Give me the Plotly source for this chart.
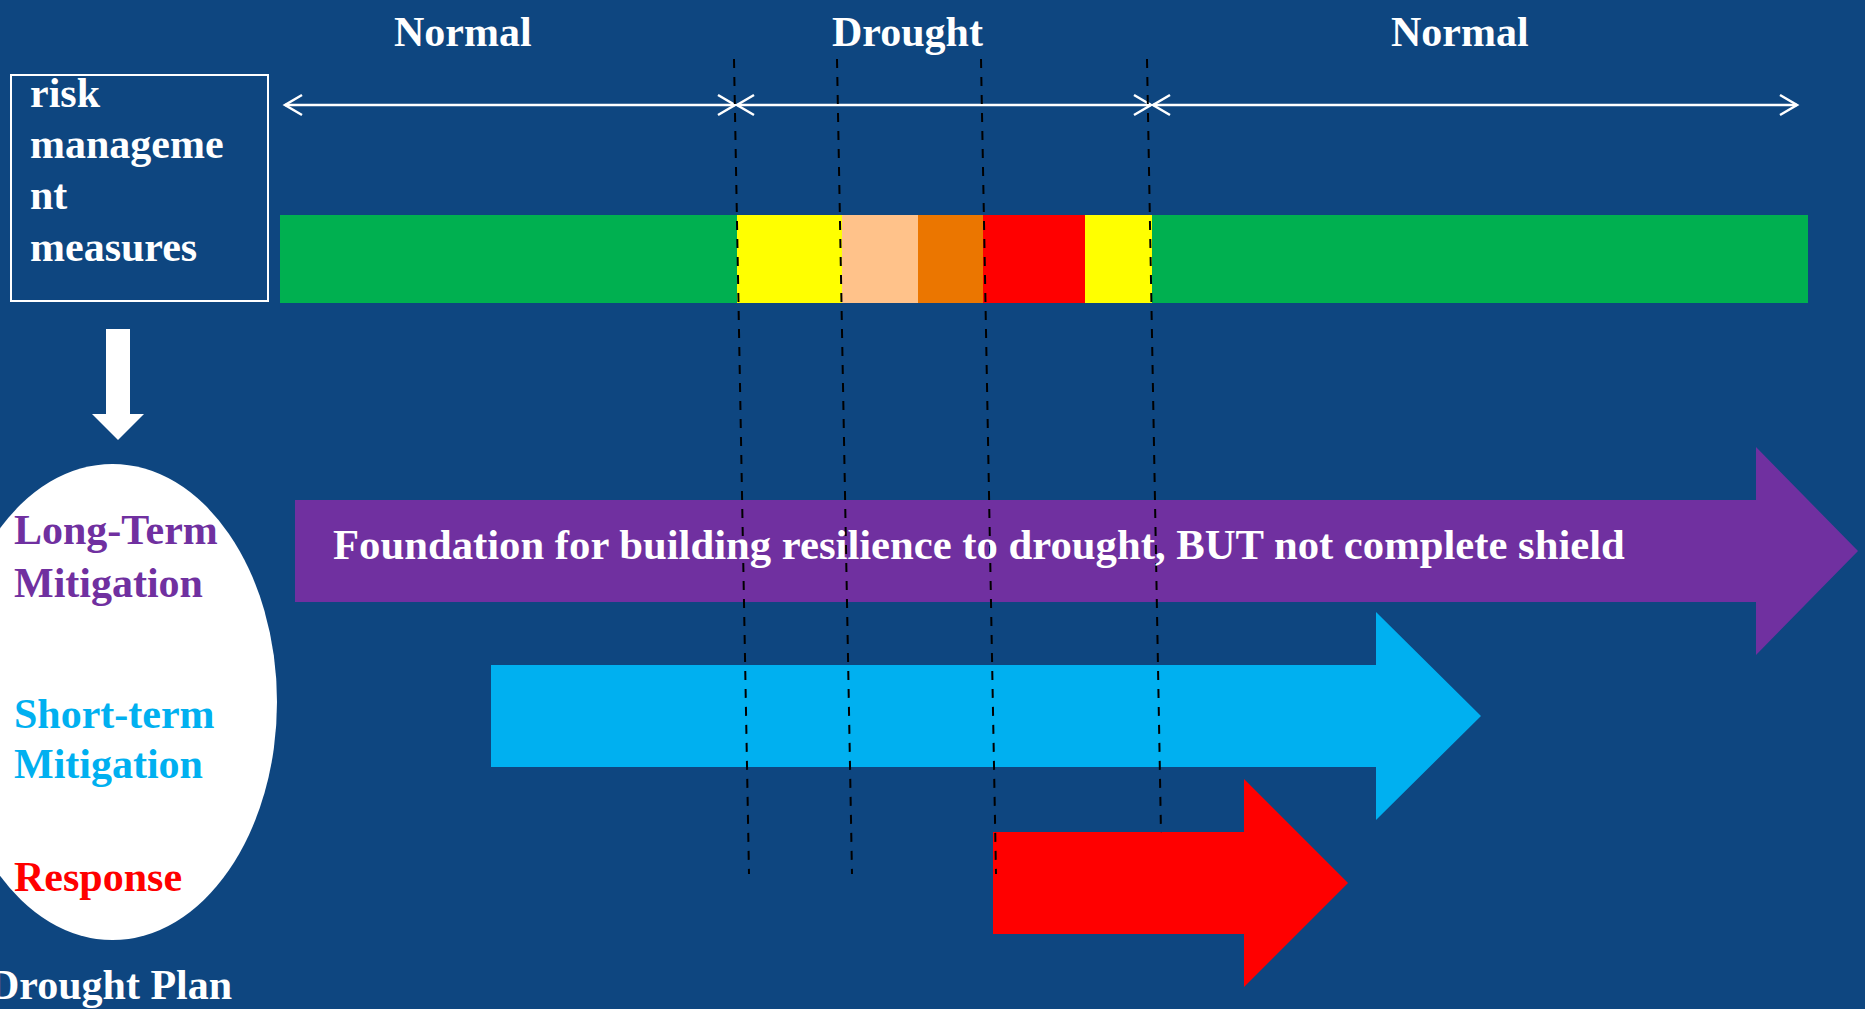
import plotly.graph_objects as go

# ---------------- data ----------------
W, H = 1865, 1009
BG = "#0E4680"

phase_labels = ["Normal", "Drought", "Normal"]
phase_edges = [284, 736, 1152, 1798]          # timeline boundaries
phase_label_x = [463, 907, 1460]
timeline_y = 105
label_y = 32

stage_colors = ["#00B050", "#FFFF00", "#FFC28A", "#EB7600", "#FF0000", "#FFFF00", "#00B050"]
stage_edges = [280, 737, 842, 918, 983, 1085, 1152, 1808]
stage_top, stage_bottom = 215, 303

dash_top_x = [734, 837, 981, 1147]
dash_bot_x = [749, 852, 996, 1161]
dash_top_y = [59, 59, 59, 59]
dash_bot_y = [874, 874, 874, 833]

box_lines = ["risk", "manageme", "nt", "measures"]
box_line_y = [93, 144, 195, 247]

plan_labels = ["Long-Term", "Mitigation", "Short-term", "Mitigation", "Response"]
plan_label_y = [530, 583, 714, 764, 877]
plan_colors = ["#7030A0", "#7030A0", "#00B0F0", "#00B0F0", "#FF0000"]

arrow_names = ["Long-Term Mitigation", "Short-term Mitigation", "Response"]
arrow_start = [295, 491, 993]
arrow_head = [1756, 1376, 1244]
arrow_tip = [1858, 1481, 1348]
arrow_mid = [551, 716, 883]
arrow_colors = ["#7030A0", "#00B0F0", "#FF0000"]
arrow_text = ["Foundation for building resilience to drought, BUT not complete shield", "", ""]

FONT = "Liberation Serif"
FS = 42

fig = go.Figure()

# colored stage bar
shapes = []
for i, c in enumerate(stage_colors):
    shapes.append(dict(type="rect", xref="x", yref="y", x0=stage_edges[i], x1=stage_edges[i + 1],
                       y0=stage_top, y1=stage_bottom, fillcolor=c, line=dict(width=0), layer="below"))

# risk management box
shapes.append(dict(type="rect", xref="x", yref="y", x0=11, x1=268, y0=75, y1=301,
                   line=dict(color="white", width=2), fillcolor="rgba(0,0,0,0)"))

# white ellipse
shapes.append(dict(type="circle", xref="x", yref="y", x0=-52, x1=277, y0=464, y1=940,
                   fillcolor="white", line=dict(width=0), layer="below"))

# timeline double arrows (open chevron heads)
tx, ty = [], []
hl, hw = 17, 10
for i in range(len(phase_labels)):
    a, b = phase_edges[i] + 1, phase_edges[i + 1] - 1
    tx += [a, b, None, a + hl, a, a + hl, None, b - hl, b, b - hl, None]
    ty += [timeline_y, timeline_y, None, timeline_y - hw, timeline_y, timeline_y + hw, None,
           timeline_y - hw, timeline_y, timeline_y + hw, None]
fig.add_trace(go.Scatter(x=tx, y=ty, mode="lines", line=dict(color="white", width=2.5),
                         hoverinfo="skip"))

# block arrows
for i in range(len(arrow_names)):
    x0, xh, xt, c = arrow_start[i], arrow_head[i], arrow_tip[i], arrow_mid[i]
    h, hh = 51, 104
    fig.add_trace(go.Scatter(
        x=[x0, xh, xh, xt, xh, xh, x0, x0],
        y=[c - h, c - h, c - hh, c, c + hh, c + h, c + h, c - h],
        mode="lines", fill="toself", fillcolor=arrow_colors[i],
        line=dict(width=0, color=arrow_colors[i]), name=arrow_names[i], hoverinfo="name"))

# down arrow
fig.add_trace(go.Scatter(
    x=[106, 130, 130, 144, 118, 92, 106, 106],
    y=[329, 329, 414, 414, 440, 414, 414, 329],
    mode="lines", fill="toself", fillcolor="white", line=dict(width=0, color="white"),
    hoverinfo="skip"))

# dashed vertical lines
for i in range(len(dash_top_x)):
    fig.add_trace(go.Scatter(x=[dash_top_x[i], dash_bot_x[i]], y=[dash_top_y[i], dash_bot_y[i]],
                             mode="lines", line=dict(color="black", width=2, dash="dash"),
                             hoverinfo="skip"))

annotations = []
for lab, x in zip(phase_labels, phase_label_x):
    annotations.append(dict(x=x, y=label_y, text=lab, xanchor="center", yanchor="middle"))
for lab, y in zip(box_lines, box_line_y):
    annotations.append(dict(x=28, y=y, text=lab, xanchor="left", yanchor="middle"))
for lab, y, c in zip(plan_labels, plan_label_y, plan_colors):
    annotations.append(dict(x=12, y=y, text=lab, xanchor="left", yanchor="middle", font_color=c))
annotations.append(dict(x=110, y=985, text="Drought Plan", xanchor="center", yanchor="middle"))
annotations.append(dict(x=331, y=arrow_mid[0] - 7, text=arrow_text[0], xanchor="left",
                        yanchor="middle", font_size=42.7))

for a in annotations:
    col = a.pop("font_color", "white")
    size = a.pop("font_size", FS)
    a.update(xref="x", yref="y", showarrow=False,
             font=dict(family=FONT, size=size, color=col, weight="bold"))

fig.update_layout(
    width=W, height=H, margin=dict(l=0, r=0, t=0, b=0),
    paper_bgcolor=BG, plot_bgcolor=BG, showlegend=False,
    xaxis=dict(range=[0, W], visible=False, fixedrange=True),
    yaxis=dict(range=[H, 0], visible=False, fixedrange=True),
    shapes=shapes, annotations=annotations,
)

fig.write_html("out.html", config={"displayModeBar": False},
               post_script="document.body.style.margin='0';document.body.style.overflow='hidden';")
